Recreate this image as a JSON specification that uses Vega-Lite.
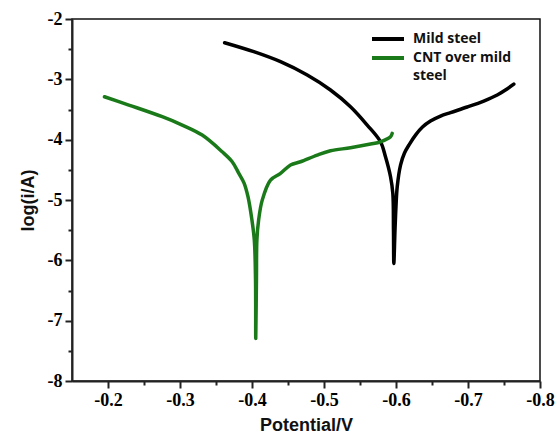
{
  "$schema": "https://vega.github.io/schema/vega-lite/v6.json",
  "width": 468,
  "height": 362,
  "autosize": {"type": "none"},
  "padding": {"left": 72, "top": 19, "right": 18, "bottom": 59},
  "background": "white",
  "config": {
    "view": {"stroke": "#111", "strokeWidth": 1.5}
  },
  "data": {"values": [
    {"series": "Mild steel", "i": 1, "v": -0.362, "y": -2.393},
    {"series": "Mild steel", "i": 2, "v": -0.4025, "y": -2.542},
    {"series": "Mild steel", "i": 3, "v": -0.4396, "y": -2.708},
    {"series": "Mild steel", "i": 4, "v": -0.4767, "y": -2.929},
    {"series": "Mild steel", "i": 5, "v": -0.509, "y": -3.177},
    {"series": "Mild steel", "i": 6, "v": -0.5368, "y": -3.454},
    {"series": "Mild steel", "i": 7, "v": -0.56, "y": -3.758},
    {"series": "Mild steel", "i": 8, "v": -0.5785, "y": -4.035},
    {"series": "Mild steel", "i": 9, "v": -0.5854, "y": -4.284},
    {"series": "Mild steel", "i": 10, "v": -0.5924, "y": -4.615},
    {"series": "Mild steel", "i": 11, "v": -0.5956, "y": -4.891},
    {"series": "Mild steel", "i": 12, "v": -0.5965, "y": -5.499},
    {"series": "Mild steel", "i": 13, "v": -0.597, "y": -6.051},
    {"series": "Mild steel", "i": 14, "v": -0.5986, "y": -5.5},
    {"series": "Mild steel", "i": 15, "v": -0.6, "y": -5.1},
    {"series": "Mild steel", "i": 16, "v": -0.6017, "y": -4.781},
    {"series": "Mild steel", "i": 17, "v": -0.6063, "y": -4.421},
    {"series": "Mild steel", "i": 18, "v": -0.6118, "y": -4.222},
    {"series": "Mild steel", "i": 19, "v": -0.6188, "y": -4.073},
    {"series": "Mild steel", "i": 20, "v": -0.6271, "y": -3.924},
    {"series": "Mild steel", "i": 21, "v": -0.6368, "y": -3.791},
    {"series": "Mild steel", "i": 22, "v": -0.6479, "y": -3.692},
    {"series": "Mild steel", "i": 23, "v": -0.6618, "y": -3.609},
    {"series": "Mild steel", "i": 24, "v": -0.6757, "y": -3.551},
    {"series": "Mild steel", "i": 25, "v": -0.6989, "y": -3.459},
    {"series": "Mild steel", "i": 26, "v": -0.7219, "y": -3.36},
    {"series": "Mild steel", "i": 27, "v": -0.7406, "y": -3.26},
    {"series": "Mild steel", "i": 28, "v": -0.752, "y": -3.177},
    {"series": "Mild steel", "i": 29, "v": -0.7636, "y": -3.078},
    {"series": "CNT over mild steel", "i": 1, "v": -0.1951, "y": -3.289},
    {"series": "CNT over mild steel", "i": 2, "v": -0.2289, "y": -3.426},
    {"series": "CNT over mild steel", "i": 3, "v": -0.2753, "y": -3.62},
    {"series": "CNT over mild steel", "i": 4, "v": -0.3031, "y": -3.758},
    {"series": "CNT over mild steel", "i": 5, "v": -0.3308, "y": -3.924},
    {"series": "CNT over mild steel", "i": 6, "v": -0.3586, "y": -4.201},
    {"series": "CNT over mild steel", "i": 7, "v": -0.3725, "y": -4.366},
    {"series": "CNT over mild steel", "i": 8, "v": -0.3817, "y": -4.559},
    {"series": "CNT over mild steel", "i": 9, "v": -0.389, "y": -4.72},
    {"series": "CNT over mild steel", "i": 10, "v": -0.3945, "y": -4.95},
    {"series": "CNT over mild steel", "i": 11, "v": -0.3995, "y": -5.3},
    {"series": "CNT over mild steel", "i": 12, "v": -0.4032, "y": -5.665},
    {"series": "CNT over mild steel", "i": 13, "v": -0.4049, "y": -6.328},
    {"series": "CNT over mild steel", "i": 14, "v": -0.4052, "y": -7.295},
    {"series": "CNT over mild steel", "i": 15, "v": -0.4062, "y": -6.3},
    {"series": "CNT over mild steel", "i": 16, "v": -0.4068, "y": -5.665},
    {"series": "CNT over mild steel", "i": 17, "v": -0.4092, "y": -5.333},
    {"series": "CNT over mild steel", "i": 18, "v": -0.4142, "y": -5.002},
    {"series": "CNT over mild steel", "i": 19, "v": -0.4257, "y": -4.67},
    {"series": "CNT over mild steel", "i": 20, "v": -0.4396, "y": -4.559},
    {"series": "CNT over mild steel", "i": 21, "v": -0.4535, "y": -4.421},
    {"series": "CNT over mild steel", "i": 22, "v": -0.4674, "y": -4.366},
    {"series": "CNT over mild steel", "i": 23, "v": -0.4906, "y": -4.255},
    {"series": "CNT over mild steel", "i": 24, "v": -0.509, "y": -4.184},
    {"series": "CNT over mild steel", "i": 25, "v": -0.5368, "y": -4.134},
    {"series": "CNT over mild steel", "i": 26, "v": -0.5646, "y": -4.073},
    {"series": "CNT over mild steel", "i": 27, "v": -0.5785, "y": -4.035},
    {"series": "CNT over mild steel", "i": 28, "v": -0.5924, "y": -3.952},
    {"series": "CNT over mild steel", "i": 29, "v": -0.5947, "y": -3.896}
  ]},
  "mark": {"type": "line", "strokeWidth": 3.5, "strokeCap": "round", "strokeJoin": "round", "interpolate": "catmull-rom"},
  "encoding": {
    "x": {
      "field": "v", "type": "quantitative",
      "scale": {"domain": [-0.8, -0.15], "reverse": true, "nice": false, "zero": false},
      "axis": {
        "title": "Potential/V",
        "values": [-0.8, -0.75, -0.7, -0.65, -0.6, -0.55, -0.5, -0.45, -0.4, -0.35, -0.3, -0.25, -0.2],
        "labelExpr": "abs(datum.value*10 - round(datum.value*10)) < 0.01 ? '-' + format(abs(datum.value), '.1f') : ''",
        "tickSize": {"condition": {"test": "abs(datum.value*10 - round(datum.value*10)) < 0.01", "value": 7}, "value": 4},
        "domainColor": "#222", "domainWidth": 2, "tickColor": "#222", "tickWidth": 2,
        "labelFont": "Liberation Serif", "labelFontWeight": "bold", "labelFontSize": 18, "labelColor": "#000",
        "titleFont": "Liberation Sans", "titleFontWeight": "bold", "titleFontSize": 18, "titleColor": "#111",
        "grid": false, "labelOverlap": false, "labelFlush": false,
        "labelPadding": 3,
        "titlePadding": 7
      }
    },
    "y": {
      "field": "y", "type": "quantitative",
      "scale": {"domain": [-8, -2], "nice": false, "zero": false},
      "axis": {
        "title": "log(i/A)",
        "values": [-8, -7.5, -7, -6.5, -6, -5.5, -5, -4.5, -4, -3.5, -3, -2.5, -2],
        "labelExpr": "abs(datum.value - round(datum.value)) < 0.01 ? '-' + format(abs(datum.value), 'd') : ''",
        "tickSize": {"condition": {"test": "abs(datum.value - round(datum.value)) < 0.01", "value": 7}, "value": 4},
        "domainColor": "#222", "domainWidth": 2, "tickColor": "#222", "tickWidth": 2,
        "labelFont": "Liberation Serif", "labelFontWeight": "bold", "labelFontSize": 18, "labelColor": "#000",
        "titleFont": "Liberation Sans", "titleFontWeight": "bold", "titleFontSize": 18, "titleColor": "#111",
        "grid": false, "labelOverlap": false, "labelFlush": false,
        "labelPadding": 3,
        "titlePadding": 10
      }
    },
    "color": {
      "field": "series", "type": "nominal",
      "scale": {"domain": ["Mild steel", "CNT over mild steel"], "range": ["#000000", "#1a7a1a"]},
      "legend": {
        "orient": "none", "legendX": 309, "legendY": 13, "title": null,
        "symbolType": "M-3.2,0H3.2", "symbolSize": 100, "symbolStrokeWidth": 4,
        "labelFont": "Open Sans", "labelFontWeight": "bold", "labelFontSize": 14, "labelColor": "#111",
        "labelLimit": 300, "labelOffset": 18, "rowPadding": 3,
        "labelExpr": "datum.label == 'CNT over mild steel' ? ['CNT over mild', 'steel'] : datum.label",
        "encode": {"labels": {"update": {"lineHeight": {"value": 18}}}}
      }
    },
    "order": {"field": "i", "type": "quantitative"}
  }
}
